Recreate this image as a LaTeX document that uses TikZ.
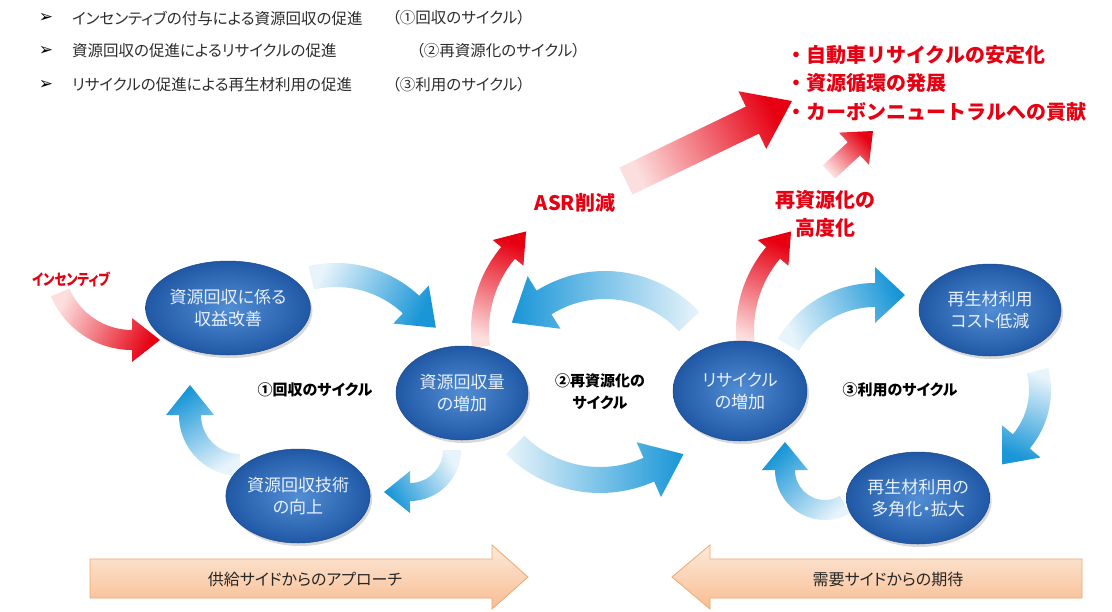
\documentclass[tikz,border=0pt]{standalone}
\usepackage{fontspec}
\setmainfont{Noto Sans CJK JP}[RawFeature={+palt}]
\newfontfamily\jpfull{Noto Sans CJK JP}
\newfontfamily\dvfont{DejaVu Sans}
\usetikzlibrary{calc,shadows,shapes.geometric}
\definecolor{txtgray}{RGB}{45,45,45}
\definecolor{jred}{RGB}{230,0,18}
\definecolor{lred}{RGB}{252,222,222}
\definecolor{jblue}{RGB}{25,150,215}
\definecolor{lblue}{RGB}{232,244,251}
\definecolor{ein}{RGB}{82,142,212}
\definecolor{eout}{RGB}{32,88,165}
\definecolor{etext}{RGB}{232,240,252}
\definecolor{peachT}{RGB}{253,234,218}
\definecolor{peachB}{RGB}{248,188,145}
\definecolor{peachD}{RGB}{238,168,112}

% curved arrow: [style]{center}{radius}{start angle}{end angle}{width}{head width}{head length}
\newcommand{\CArrow}[8][]{%
  \pgfmathsetmacro\CAro{#3+#6/2}%
  \pgfmathsetmacro\CAri{#3-#6/2}%
  \pgfmathsetmacro\CAhro{#3+#7/2}%
  \pgfmathsetmacro\CAhri{#3-#7/2}%
  \pgfmathsetmacro\CAtan{#5+ifthenelse(#5>#4,90,-90)}%
  \path[#1] ($(#2)+(#4:\CAro)$) arc[start angle=#4,end angle=#5,radius=\CAro]
    -- ($(#2)+(#5:\CAhro)$) -- ($(#2)+(#5:#3)+(\CAtan:#8)$) -- ($(#2)+(#5:\CAhri)$)
    -- ($(#2)+(#5:\CAri)$) arc[start angle=#5,end angle=#4,radius=\CAri] -- cycle;}
% straight arrow: [style]{tail}{tip}{half width}{half head width}{head length}{base name}
\newcommand{\SArrow}[7][]{%
  \coordinate (#7) at ($(#3)!#6!(#2)$);
  \path[#1] ($(#2)!#4!90:(#3)$) -- ($(#7)!#4!90:(#3)$) -- ($(#7)!#5!90:(#3)$) -- (#3)
    -- ($(#7)!#5!-90:(#3)$) -- ($(#7)!#4!-90:(#3)$) -- ($(#2)!#4!-90:(#3)$) -- cycle;}

\begin{document}
\begin{tikzpicture}[x=1pt,y=1pt,
  ell/.style={ellipse, minimum width=136pt, minimum height=94pt, inner sep=0pt,
    shading=radial, inner color=ein, outer color=eout, draw=eout!85!black, line width=0.5pt,
    text=etext, font=\fontsize{17}{22}\selectfont, align=center,
    drop shadow={opacity=0.3, shadow xshift=2pt, shadow yshift=-3pt}},
  bluearr/.style={top color=jblue, bottom color=lblue},
  redarr/.style={top color=jred, bottom color=lred},
  lbl/.style={font=\bfseries\fontsize{15}{22}\selectfont, text=black, inner sep=0pt, align=center},
  redlbl/.style={font=\bfseries\fontsize{20}{28}\selectfont, text=jred, inner sep=0pt, align=center},
  goal/.style={font=\jpfull\bfseries\fontsize{20}{24}\selectfont, text=jred, inner sep=0pt, anchor=west},
  toptxt/.style={font=\fontsize{15.5}{18}\selectfont, text=txtgray, anchor=west, inner sep=0pt},
  bul/.style={font=\dvfont\bfseries\fontsize{17}{18}\selectfont, text=black, inner sep=0pt},
  botarr/.style={top color=peachT, bottom color=peachB, draw=peachD, line width=0.8pt},
  bottxt/.style={font=\fontsize{16}{18}\selectfont, text=black!85, inner sep=0pt}
]
\useasboundingbox (0,0) rectangle (1112,-611);
\fill[white] (0,0) rectangle (1112,-611);

% ---------- top list ----------
\node[bul] (b1) at (46,-18) {➢};
\node[bul] (b2) at (46,-51) {➢};
\node[bul] (b3) at (46,-85) {➢};
\node[toptxt] (t1) at (72,-18) {インセンティブの付与による資源回収の促進};
\node[toptxt] (t2) at (72,-51) {資源回収の促進によるリサイクルの促進};
\node[toptxt] (t3) at (72,-85) {リサイクルの促進による再生材利用の促進};
\node[toptxt] (p1) at (392,-18) {（①回収のサイクル）};
\node[toptxt] (p2) at (416,-51) {（②再資源化のサイクル）};
\node[toptxt] (p3) at (392,-85) {（③利用のサイクル）};

% ---------- red straight arrows ----------
\coordinate (r4t) at (626,-181);
\coordinate (r4h) at (792,-101);
\SArrow[redarr, shading angle=-64]{r4t}{r4h}{15pt}{32pt}{44pt}{r4b}
\coordinate (r5t) at (829,-172);
\coordinate (r5h) at (873,-131);
\SArrow[redarr, shading angle=-47]{r5t}{r5h}{9pt}{22pt}{26pt}{r5b}

% ---------- red goals ----------
\node[goal] (g1) at (786,-55) {・自動車リサイクルの安定化};
\node[goal] (g2) at (786,-83) {・資源循環の発展};
\node[goal] (g3) at (786,-112) {・カーボンニュートラルへの貢献};

\node[redlbl] (asr) at (575,-203) {ASR削減};
\node[redlbl] (kodo) at (825,-214) {再資源化の\\高度化};
\node[font=\bfseries\fontsize{15.5}{18}\selectfont, text=jred, inner sep=0pt] (inc) at (71,-279) {\scalebox{0.8}[1]{インセンティブ}};

% ---------- blue cycle arrows ----------
\CArrow[bluearr, shading angle=-116]{336,-385}{110}{103}{47}{24}{52}{34}
\CArrow[bluearr, shading angle=90]{605,-400}{115}{43}{122}{28}{62}{38}
\CArrow[bluearr, shading angle=-90]{600,-360}{120}{225}{294}{26}{60}{38}
\CArrow[bluearr, shading angle=122]{410,-450}{42}{0}{-90}{18}{42}{26}
\CArrow[bluearr, shading angle=32]{240,-415}{50}{-90}{-180}{22}{48}{30}
\CArrow[bluearr, shading angle=-67]{875,-395}{100}{150}{90}{24}{56}{30}
\CArrow[bluearr, shading angle=159]{960,-390}{80}{14}{-40}{22}{50}{30}
\CArrow[bluearr, shading angle=44]{825,-470}{40}{-60}{-180}{20}{46}{28}

% ---------- red curved arrows ----------
\CArrow[redarr, shading angle=-116]{132,-262}{78}{203}{270}{20}{44}{28}
\CArrow[redarr, shading angle=-21]{600,-330}{120}{188}{140}{18}{40}{28}
\CArrow[redarr, shading angle=-21]{865,-330}{120}{188}{140}{18}{40}{28}

% ---------- ellipses ----------
\node[ell, minimum width=130pt] (e1) at (228,-308) {資源回収に係る\\収益改善};
\node[ell, minimum width=132pt] (e2) at (462,-393) {資源回収量\\の増加};
\node[ell, minimum width=134pt] (e3) at (298,-496) {資源回収技術\\の向上};
\node[ell, minimum width=134pt, minimum height=100pt] (e4) at (740,-391) {リサイクル\\の増加};
\node[ell, minimum width=142pt, minimum height=92pt] (e5) at (990,-310) {再生材利用\\コスト低減};
\node[ell, minimum width=134pt, minimum height=92pt] (e6) at (918,-498) {再生材利用の\\多角化・拡大};

% ---------- cycle labels ----------
\node[lbl] (c1) at (315,-390) {①回収のサイクル};
\node[lbl] (c2) at (600,-392) {②再資源化の\\サイクル};
\node[lbl] (c3) at (900,-390) {③利用のサイクル};

% ---------- bottom arrows ----------
\path[botarr] (90,-559) -- (492,-559) -- (492,-545) -- (528,-577) -- (492,-609)
  -- (492,-598) -- (90,-598) -- cycle;
\node[bottxt] (sup) at (305,-579) {供給サイドからのアプローチ};
\path[botarr] (1082,-559) -- (710,-559) -- (710,-545) -- (672,-577) -- (710,-609)
  -- (710,-598) -- (1082,-598) -- cycle;
\node[bottxt] (dem) at (888,-579) {需要サイドからの期待};
\end{tikzpicture}
\end{document}
